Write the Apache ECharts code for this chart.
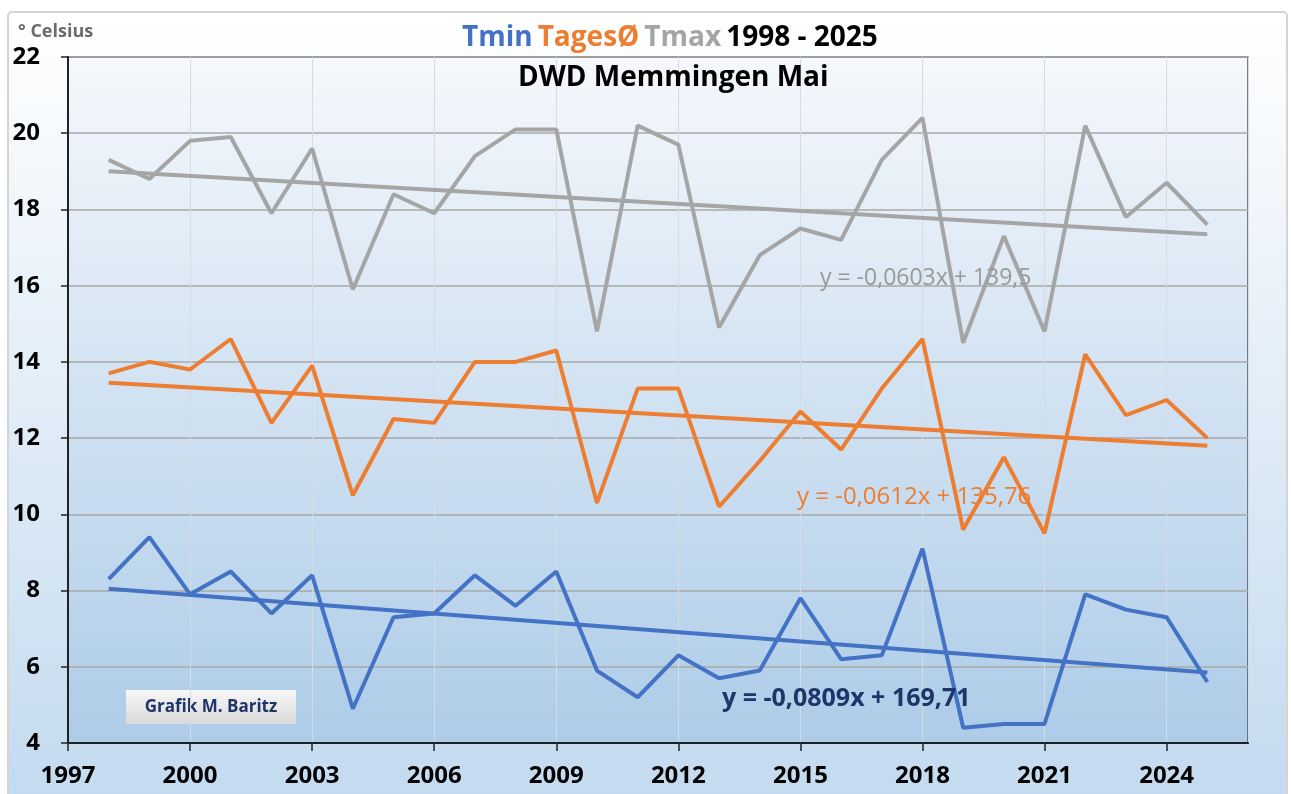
<!DOCTYPE html>
<html>
<head>
<meta charset="utf-8">
<script src="https://cdn.jsdelivr.net/npm/echarts@6/dist/echarts.min.js"></script>
<style>
  html, body { margin: 0; padding: 0; background: #fff; }
  #main { width: 1291px; height: 794px; }
</style>
</head>
<body>
<div id="main"></div>
<script>
// Jahre und Monatsmittel Mai (DWD Memmingen)
var years = [1998, 1999, 2000, 2001, 2002, 2003, 2004, 2005, 2006, 2007,
             2008, 2009, 2010, 2011, 2012, 2013, 2014, 2015, 2016, 2017,
             2018, 2019, 2020, 2021, 2022, 2023, 2024, 2025];
var tmin  = [8.3, 9.4, 7.9, 8.5, 7.4, 8.4, 4.9, 7.3, 7.4, 8.4,
             7.6, 8.5, 5.9, 5.2, 6.3, 5.7, 5.9, 7.8, 6.2, 6.3,
             9.1, 4.4, 4.5, 4.5, 7.9, 7.5, 7.3, 5.6];
var tmit  = [13.7, 14.0, 13.8, 14.6, 12.4, 13.9, 10.5, 12.5, 12.4, 14.0,
             14.0, 14.3, 10.3, 13.3, 13.3, 10.2, 11.4, 12.7, 11.7, 13.3,
             14.6, 9.6, 11.5, 9.5, 14.2, 12.6, 13.0, 12.0];
var tmax  = [19.3, 18.8, 19.8, 19.9, 17.9, 19.6, 15.9, 18.4, 17.9, 19.4,
             20.1, 20.1, 14.8, 20.2, 19.7, 14.9, 16.8, 17.5, 17.2, 19.3,
             20.4, 14.5, 17.3, 14.8, 20.2, 17.8, 18.7, 17.6];
// Trendlinien (Endpunkte)
var trendYears = [1998, 2025];
var trendMin = [8.05, 5.85];
var trendMit = [13.45, 11.8];
var trendMax = [19.0, 17.35];
var eqMin = 'y = -0,0809x + 169,71';
var eqMit = 'y = -0,0612x + 135,76';
var eqMax = 'y = -0,0603x + 139,5';

var FONT = "'Open Sans', sans-serif";
var cBlue = '#4472c4', cOrange = '#ed7d31', cGray = '#a5a5a5';

function pairs(xs, ys) {
    return xs.map(function (x, i) { return [x, ys[i]]; });
}

var myChart = echarts.init(document.getElementById('main'));

function lineSeries(name, data, color) {
    return {
        name: name,
        type: 'line',
        data: data,
        symbol: 'none',
        lineStyle: { color: color, width: 4 },
        silent: true,
        z: 3
    };
}

var option = {
    animation: false,
    title: [{
        text: '{b|Tmin} {o|TagesØ} {g|Tmax} {k|1998 - 2025}',
        left: 457,
        top: 19,
        textStyle: {
            rich: {
                b: { color: cBlue, fontSize: 28, fontWeight: 'bold', fontFamily: FONT },
                o: { color: cOrange, fontSize: 28, fontWeight: 'bold', fontFamily: FONT },
                g: { color: cGray, fontSize: 28, fontWeight: 'bold', fontFamily: FONT },
                k: { color: '#000', fontSize: 28, fontWeight: 'bold', fontFamily: FONT }
            }
        }
    }, {
        text: 'DWD Memmingen Mai',
        left: 513,
        top: 59,
        textStyle: { color: '#000', fontSize: 28, fontWeight: 'bold', fontFamily: FONT }
    }],
    graphic: [{
        type: 'rect',
        z: -10,
        shape: { x: 8, y: 12, width: 1279, height: 790, r: 4 },
        style: {
            fill: new echarts.graphic.LinearGradient(0, 0, 0, 1, [
                { offset: 0, color: '#ffffff' },
                { offset: 1, color: '#c3daef' }
            ]),
            stroke: '#d4d4d4',
            lineWidth: 2
        }
    }, {
        type: 'text',
        left: 18, top: 23,
        style: { text: '° Celsius', fill: '#6b6b6b', font: "bold 18px " + FONT }
    }, {
        type: 'text',
        left: 820, top: 267, z: 5,
        style: { text: eqMax, fill: '#999999', font: "23px " + FONT }
    }, {
        type: 'text',
        left: 797, top: 485, z: 5,
        style: { text: eqMit, fill: cOrange, font: "24px " + FONT }
    }, {
        type: 'text',
        left: 722, top: 686, z: 5,
        style: { text: eqMin, fill: '#1f3468', font: "bold 25px " + FONT }
    }, {
        type: 'group',
        left: 126, top: 690, z: 5,
        children: [{
            type: 'rect',
            shape: { x: 0, y: 0, width: 170, height: 34 },
            style: {
                fill: new echarts.graphic.LinearGradient(0, 0, 0, 1, [
                    { offset: 0, color: '#f7f7f7' },
                    { offset: 1, color: '#d9d9d9' }
                ])
            }
        }, {
            type: 'text',
            x: 85, y: 17,
            style: {
                text: 'Grafik M. Baritz', fill: '#1f3468',
                font: "bold 17px " + FONT, align: 'center', verticalAlign: 'middle'
            }
        }]
    }],
    grid: {
        left: 68, right: 43, top: 57, bottom: 51,
        show: true,
        borderColor: '#555',
        borderWidth: 1.5,
        backgroundColor: new echarts.graphic.LinearGradient(0, 0, 0, 1, [
            { offset: 0, color: '#f5f8fc' },
            { offset: 1, color: '#adcce8' }
        ])
    },
    xAxis: {
        type: 'value',
        min: 1997, max: 2026, interval: 3,
        axisLine: { show: true, lineStyle: { color: '#222', width: 2 } },
        axisTick: { show: true, length: 8, lineStyle: { color: '#222', width: 1.5 } },
        axisLabel: {
            color: '#000', fontSize: 24, fontWeight: 'bold', fontFamily: FONT, margin: 21,
            showMaxLabel: false,
            formatter: function (v) { return v === 2026 ? '' : String(v); }
        },
        splitLine: { show: true, lineStyle: { color: '#d6dbe0', width: 1 } }
    },
    yAxis: {
        type: 'value',
        min: 4, max: 22, interval: 2,
        axisLine: { show: true, lineStyle: { color: '#222', width: 2 } },
        axisTick: { show: true, length: 7, lineStyle: { color: '#222', width: 1.5 } },
        axisLabel: { color: '#000', fontSize: 24, fontWeight: 'bold', fontFamily: FONT, margin: 28 },
        splitLine: { show: true, lineStyle: { color: '#a8a8a8', width: 1.5 } }
    },
    series: [
        lineSeries('Tmax', pairs(years, tmax), cGray),
        lineSeries('Trend Tmax', pairs(trendYears, trendMax), cGray),
        lineSeries('TagesØ', pairs(years, tmit), cOrange),
        lineSeries('Trend TagesØ', pairs(trendYears, trendMit), cOrange),
        lineSeries('Tmin', pairs(years, tmin), cBlue),
        lineSeries('Trend Tmin', pairs(trendYears, trendMin), cBlue)
    ]
};

myChart.setOption(option);
</script>
</body>
</html>
